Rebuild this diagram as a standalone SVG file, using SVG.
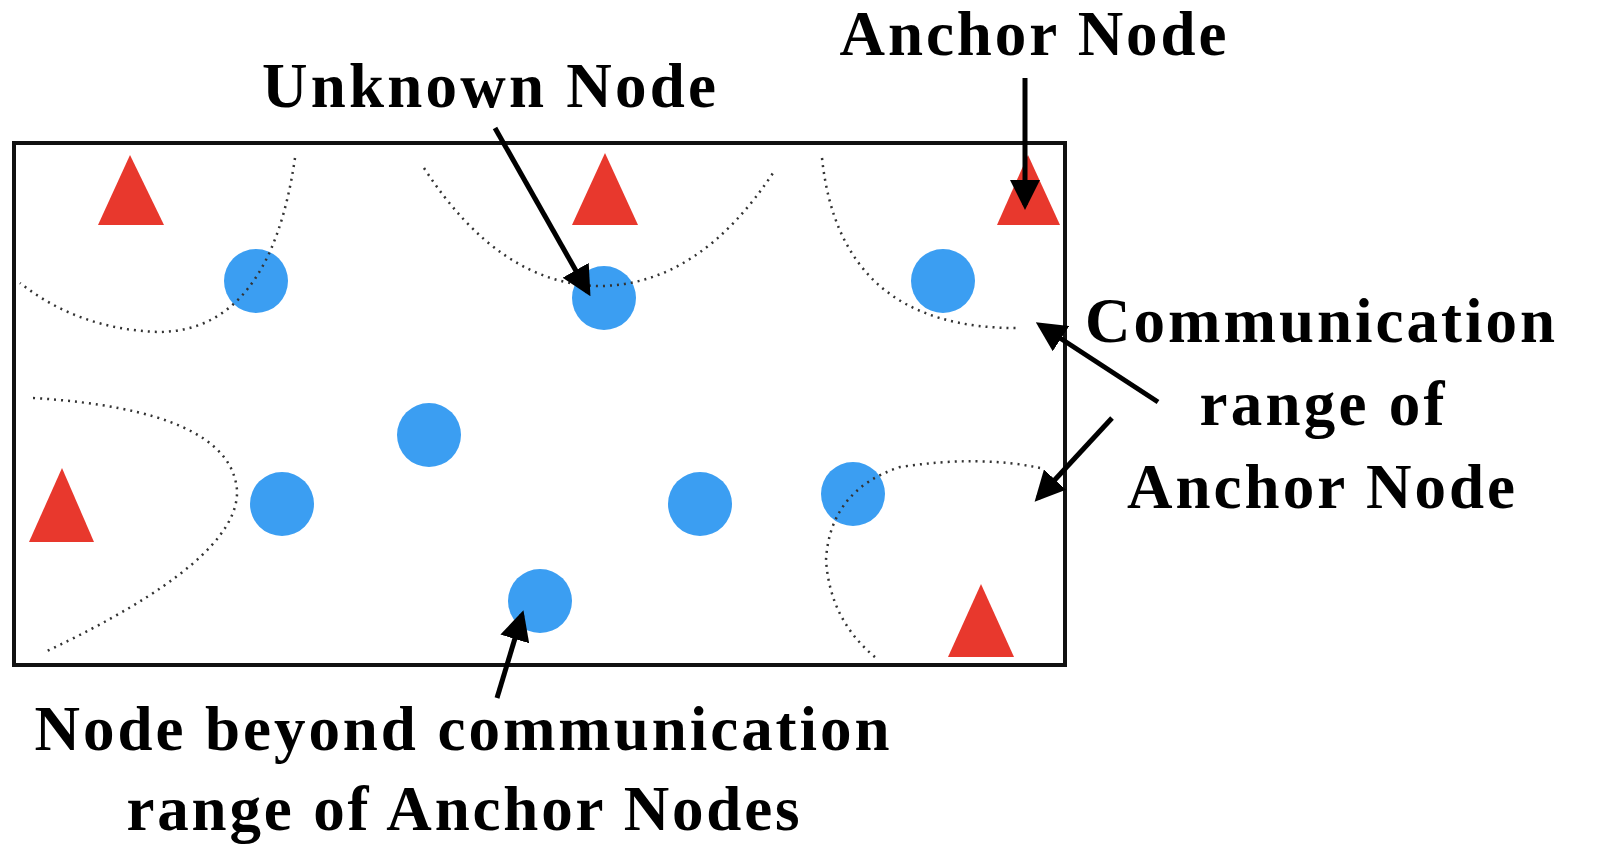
<svg xmlns="http://www.w3.org/2000/svg" width="1600" height="868" viewBox="0 0 1600 868">
<style>
.t{font-family:"Liberation Serif",serif;font-weight:bold;font-size:63px;fill:#000;text-anchor:middle}
.tri{fill:#e8382d}
.c{fill:#3b9ef2}
.d{fill:none;stroke:#333;stroke-width:2.5;stroke-dasharray:2 5}
.a{stroke:#000;stroke-width:5;fill:none;marker-end:url(#ah)}
</style>
<defs><marker id="ah" markerWidth="6" markerHeight="6" refX="5" refY="3" orient="auto"><path d="M0,0 L6,3 L0,6 z" fill="#000"/></marker></defs>
<rect width="1600" height="868" fill="#fff"/>
<rect x="14" y="143" width="1051" height="522" fill="none" stroke="#111" stroke-width="4"/>
<g id="anchors">
<polygon class="tri" points="130,155 98,225 164,225"/>
<polygon class="tri" points="605,153 572,225 638,225"/>
<polygon class="tri" points="1028,155 997,225 1060,225"/>
<polygon class="tri" points="62,468 29,542 94,542"/>
<polygon class="tri" points="981,584 948,657 1014,657"/>
</g>
<g id="unknown">
<circle class="c" cx="256" cy="281" r="32"/>
<circle class="c" cx="604" cy="298" r="32"/>
<circle class="c" cx="943" cy="281" r="32"/>
<circle class="c" cx="429" cy="435" r="32"/>
<circle class="c" cx="282" cy="504" r="32"/>
<circle class="c" cx="700" cy="504" r="32"/>
<circle class="c" cx="853" cy="494" r="32"/>
<circle class="c" cx="540" cy="601" r="32"/>
</g>
<g id="ranges">
<path class="d" d="M295,158 Q270,330 160,332 Q80,330 20,283"/>
<path class="d" d="M424,168 Q500,285 600,286 Q700,285 775,170"/>
<path class="d" d="M822,158 Q840,330 1020,328"/>
<path class="d" d="M33,398 Q230,410 237,490 Q240,560 45,652"/>
<path class="d" d="M1040,468 Q980,455 900,467 Q830,490 826,560 Q830,620 875,657"/>
</g>
<g id="connectors">
<path class="a" d="M495,128 L588,292"/>
<path class="a" d="M1025,78 L1025,205"/>
<path class="a" d="M1158,402 L1040,325"/>
<path class="a" d="M1112,418 L1038,498"/>
<path class="a" d="M497,698 L522,615"/>
</g>
<g id="labels">
<text class="t" x="1033" y="55" textLength="387">Anchor Node</text>
<text class="t" x="489" y="107" textLength="454">Unknown Node</text>
<text class="t" x="1320" y="342" textLength="470">Communication</text>
<text class="t" x="1322" y="425" textLength="245">range of</text>
<text class="t" x="1321" y="508" textLength="388">Anchor Node</text>
<text class="t" x="462" y="750" textLength="855">Node beyond communication</text>
<text class="t" x="463" y="830" textLength="673">range of Anchor Nodes</text>
</g>
</svg>
